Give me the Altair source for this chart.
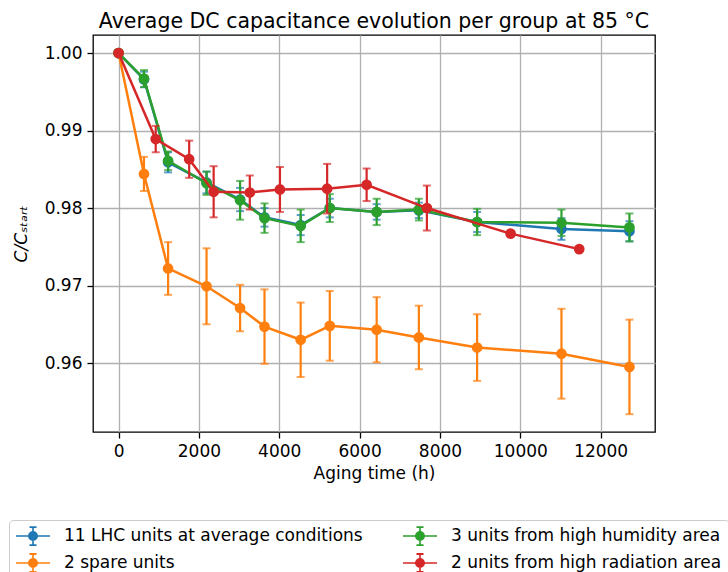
import altair as alt
import pandas as pd

groups = ["11 LHC units at average conditions", "2 spare units",
          "3 units from high humidity area", "2 units from high radiation area"]
colors = ["#1f77b4", "#ff7f0e", "#2ca02c", "#d62728"]

# aging time (h)
t_common = [0, 633, 1233, 2190, 3025, 3633, 4533, 5258, 6425, 7475, 8925, 11025, 12717]
t_rad = [0, 925, 1758, 2367, 3267, 4017, 5192, 6175, 7675, 9758, 11467]

lhc_c = [1.0, 0.9966, 0.9859, 0.9833, 0.9811, 0.9788, 0.9778, 0.9800, 0.9795, 0.9797, 0.9782, 0.9773, 0.9770]
lhc_err = [0, 0.0010, 0.0013, 0.0014, 0.0015, 0.0012, 0.0013, 0.0012, 0.0010, 0.0010, 0.0013, 0.0014, 0.0013]

spare_c = [1.0, 0.9844, 0.9722, 0.9699, 0.9671, 0.9647, 0.9630, 0.9648, 0.9643, 0.9633, 0.9620, 0.9612, 0.9595]
spare_err = [0, 0.0022, 0.0034, 0.0049, 0.0030, 0.0048, 0.0048, 0.0045, 0.0042, 0.0041, 0.0043, 0.0058, 0.0061]

hum_c = [1.0, 0.9967, 0.9861, 0.9832, 0.9810, 0.9787, 0.9777, 0.9800, 0.9795, 0.9798, 0.9782, 0.9781, 0.9775]
hum_err = [0, 0.0011, 0.0012, 0.0015, 0.0025, 0.0019, 0.0021, 0.0018, 0.0017, 0.0014, 0.0017, 0.0017, 0.0018]

rad_c = [1.0, 0.9889, 0.9863, 0.9821, 0.9820, 0.9824, 0.9825, 0.9830, 0.9800, 0.9767, 0.9747]
rad_err = [0, 0.0017, 0.0024, 0.0033, 0.0022, 0.0029, 0.0032, 0.0021, 0.0029, 0, 0]

series = [
    (groups[0], t_common, lhc_c, lhc_err),
    (groups[1], t_common, spare_c, spare_err),
    (groups[2], t_common, hum_c, hum_err),
    (groups[3], t_rad, rad_c, rad_err),
]

rows = []
for g, ts, cs, es in series:
    for t, c, e in zip(ts, cs, es):
        rows.append({"group": g, "t": t, "c": c, "lo": c - e, "hi": c + e})
df = pd.DataFrame(rows)

color_scale = alt.Scale(domain=groups, range=colors)

FONT = "DejaVu Sans"
x_scale = alt.Scale(domain=[-636, 13353], nice=False, zero=False)
y_scale = alt.Scale(domain=[0.9511, 1.00233], nice=False, zero=False)
x_axis = alt.Axis(values=[0, 2000, 4000, 6000, 8000, 10000, 12000], format="d",
                  title="Aging time (h)", titlePadding=6)
y_axis = alt.Axis(values=[0.96, 0.97, 0.98, 0.99, 1.00], format=".2f",
                  title="C/Cₛₜₐᵣₜ", titleFontStyle="italic", titlePadding=14)

SYMBOL = ("M-1,-0.09H2.78V0.09H-1Z"
          "M0.8,-1H0.98V1H0.8Z"
          "M0.5,-1.1H1.28V-0.9H0.5Z"
          "M0.5,0.9H1.28V1.1H0.5Z"
          "M0.34,0A0.55,0.55,0,1,1,1.44,0A0.55,0.55,0,1,1,0.34,0Z")

legend = alt.Legend(title=None, orient="none", legendX=-84, legendY=485, columns=2,
                    columnPadding=40, rowPadding=7, symbolType=SYMBOL, symbolSize=324,
                    symbolStrokeWidth=0, symbolOpacity=1, labelFont=FONT, labelFontSize=17,
                    labelColor="black", labelLimit=600, labelOffset=30, padding=7,
                    strokeColor="#cccccc", fillColor="white", cornerRadius=4)

layers = []
for i, (g, ts, cs, es) in enumerate(series):
    base = alt.Chart(df).transform_filter(alt.datum.group == g)
    col = alt.value(colors[i])
    rule = base.mark_rule(strokeWidth=2.2).encode(
        x=alt.X("t:Q", scale=x_scale, axis=x_axis),
        y=alt.Y("lo:Q", scale=y_scale, axis=y_axis),
        y2="hi:Q", color=col)
    cap_lo = base.mark_tick(orient="horizontal", size=8, thickness=2).encode(
        x=alt.X("t:Q", scale=x_scale, axis=x_axis),
        y=alt.Y("lo:Q", scale=y_scale, axis=y_axis), color=col)
    cap_hi = base.mark_tick(orient="horizontal", size=8, thickness=2).encode(
        x=alt.X("t:Q", scale=x_scale, axis=x_axis),
        y=alt.Y("hi:Q", scale=y_scale, axis=y_axis), color=col)
    line = base.mark_line(strokeWidth=2.5).encode(
        x=alt.X("t:Q", scale=x_scale, axis=x_axis),
        y=alt.Y("c:Q", scale=y_scale, axis=y_axis),
        order="t:Q", color=col)
    pts = base.mark_point(filled=True, size=115, opacity=1, shape="circle").encode(
        x=alt.X("t:Q", scale=x_scale, axis=x_axis),
        y=alt.Y("c:Q", scale=y_scale, axis=y_axis),
        color=alt.Color("group:N", scale=color_scale, legend=legend))
    layers += [rule, cap_lo, cap_hi, line, pts]

chart = alt.layer(*layers).properties(
    width=562, height=397,
    background="white",
    autosize=alt.AutoSizeParams(type="none"),
    padding={"left": 93, "top": 35, "right": 73, "bottom": 140},
    title=alt.Title("Average DC capacitance evolution per group at 85 °C",
                    font=FONT, fontSize=20.5, fontWeight="normal", color="black",
                    anchor="middle", baseline="bottom", offset=6, dy=23),
).configure_view(
    stroke="black", strokeWidth=1.3
).configure_axis(
    domain=False, grid=True, gridColor="#b0b0b0", gridWidth=1.3,
    tickColor="black", tickSize=6, tickWidth=1.3,
    labelFont=FONT, labelFontSize=17, labelColor="black", labelPadding=5,
    titleFont=FONT, titleFontSize=17, titleFontWeight="normal", titleColor="black",
)

chart.save("out.html", embed_options={"renderer": "svg", "actions": False})
